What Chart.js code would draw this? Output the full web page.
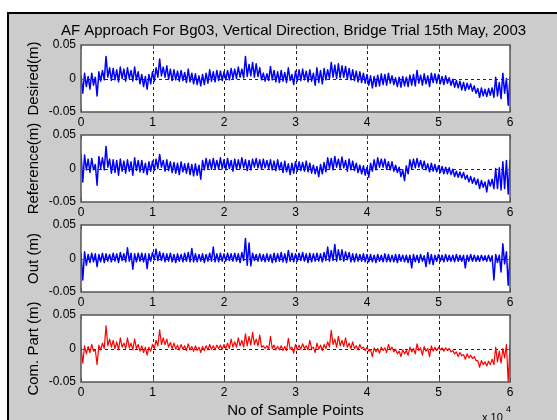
<!DOCTYPE html>
<html>
<head>
<meta charset="utf-8">
<script src="https://cdn.jsdelivr.net/npm/chart.js@4.4.0/dist/chart.umd.min.js"></script>
<style>
  html, body { margin: 0; padding: 0; background: #fff; overflow: hidden; }
  body { width: 557px; height: 420px; position: relative; }
  #fig { position: absolute; left: 7px; top: 12px; right: 0; bottom: 0;
         background: #cccccc; border-top: 2px solid #000; border-left: 2px solid #000; }
  canvas { position: absolute; left: 0; }
</style>
</head>
<body>
<div id="fig"></div>
<canvas id="c1" width="557" height="147" style="top:5px;width:557px;height:147px"></canvas>
<canvas id="c2" width="557" height="147" style="top:95px;width:557px;height:147px"></canvas>
<canvas id="c3" width="557" height="147" style="top:185px;width:557px;height:147px"></canvas>
<canvas id="c4" width="557" height="147" style="top:275px;width:557px;height:147px"></canvas>
<script>
// AF approach, Bg03 vertical direction - 4 stacked panels
// values in mm, one point every 250 samples (upper / lower edge of the noise band)

const sampleStep = 250;

const xTickValues = [0, 10000, 20000, 30000, 40000, 50000, 60000];
const xTickLabels = ['0', '1', '2', '3', '4', '5', '6'];
const yTickValues = [-0.05, 0, 0.05];
const yTickLabels = ['-0.05', '0', '0.05'];

const titleText = 'AF Approach For Bg03, Vertical Direction, Bridge Trial 15th May, 2003';
const xTitle = 'No of Sample Points';
const yTitles = ['Desired(m)', 'Reference(m)', 'Out (m)', 'Com. Part (m)'];

const desiredMm = [
  5,-22, 8,-12, 3,-16, 8,-10, 2,-26,
  10,-4, 12,-2, 33,2, 16,-3, 15,-2,
  13,-5, 17,0, 14,-4, 16,0, 12,-4,
  17,-2, 10,-8, 6,-12, 3,-16, 6,-8,
  10,-4, 16,2, 29,4, 17,2, 19,-1,
  14,-3, 13,-2, 11,-4, 12,-3, 9,-6,
  14,-5, 8,-8, 7,-9, 4,-11, 6,-9,
  8,-7, 13,-4, 10,-5, 12,-3, 11,-3,
  10,-2, 12,-2, 15,0, 14,0, 17,2,
  14,1, 33,3, 21,4, 24,2, 22,3,
  16,-2, 8,-4, 7,-3, 18,-2, 12,-5,
  10,-6, 12,-4, 9,-6, 16,-3, 6,-9,
  11,-4, 13,-3, 14,-2, 11,-5, 13,-4,
  8,-10, 16,-6, 12,-8, 15,-2, 13,0,
  24,2, 20,0, 22,1, 19,2, 18,-1,
  15,-2, 13,-3, 11,-5, 10,-6, 8,-7,
  6,-10, 4,-14, 3,-12, 5,-11, 7,-9,
  6,-10, 8,-7, 4,-9, 1,-12, 2,-13,
  3,-11, 2,-12, 5,-10, 6,-11, 12,-7,
  5,-10, 7,-8, 4,-12, 8,-6, 7,-7,
  6,-8, 3,-9, 4,-7, 1,-10, -1,-13,
  -3,-14, -4,-17, -6,-18, -7,-16, -8,-19,
  -11,-22, -15,-28, -14,-26, -16,-27, -15,-25,
  -14,-28, 2,-26, -6,-30, 8,-22, 0,-40,
  3
];

const referenceMm = [
  22,-20, 20,-2, 14,-6, 15,-2, 6,-25,
  18,0, 16,-2, 33,2, 14,-7, 13,-6,
  12,-10, 14,-4, 11,-7, 13,-4, 10,-10,
  16,-3, 12,-5, 12,-6, 8,-9, 10,-4,
  11,-3, 14,0, 21,2, 12,-4, 13,-3,
  10,-6, 9,-7, 8,-9, 10,-5, 7,-7,
  8,-9, 6,-11, 7,-10, 5,-16, 12,-2,
  15,0, 13,-1, 15,0, 12,-1, 16,0,
  13,-2, 15,0, 12,-4, 14,-1, 13,0,
  16,1, 13,-3, 12,-2, 14,2, 15,1,
  13,-1, 14,1, 12,0, 13,-2, 11,-3,
  13,-2, 9,-6, 11,-5, 7,-9, 8,-7,
  10,-4, 10,-3, 9,-4, 11,-5, 8,-7,
  5,-8, 3,-12, 6,-8, 9,-5, 16,0,
  15,-2, 18,2, 14,0, 17,1, 12,-4,
  14,-2, 11,-3, 8,-6, 5,-8, 4,-10,
  2,-13, 8,-4, 13,-2, 16,2, 14,2,
  14,-1, 10,-2, 10,-4, 5,-6, 2,-12,
  -2,-18, 4,-8, 13,0, 14,1, 15,2,
  12,0, 11,-2, 7,-5, 8,-4, 6,-5,
  4,-6, 3,-8, 2,-8, 1,-9, -1,-12,
  -4,-13, -5,-14, -6,-16, -10,-20, -12,-22,
  -14,-24, -16,-30, -18,-28, -20,-35, -17,-26,
  -16,-30, 0,-30, 1,-32, 10,-30, 12,-38,
  13
];

const outMm = [
  8,-32, 10,-10, 6,-6, 8,-5, 7,-12,
  6,-5, 8,-6, 7,-4, 6,-5, 8,-4,
  7,-6, 9,-3, 7,-5, 16,-4, 8,-16,
  7,-5, 8,-4, 8,-5, 7,-15, 7,-4,
  9,-2, 14,-3, 10,-3, 8,-5, 7,-4,
  8,-5, 6,-6, 7,-4, 6,-5, 8,-4,
  9,-5, 15,-5, 7,-5, 6,-4, 7,-6,
  6,-4, 8,-4, 17,-5, 7,-5, 8,-4,
  7,-4, 8,-3, 7,-4, 8,-4, 7,-6,
  9,-3, 30,-10, 23,-11, 8,-3, 6,-4,
  7,-4, 6,-5, 7,-4, 6,-6, 8,-5,
  7,-4, 9,-5, 7,-6, 12,-4, 8,-5,
  7,-4, 8,-3, 9,-4, 7,-6, 8,-5,
  7,-4, 8,-4, 7,-5, 9,-3, 17,-4,
  12,-3, 21,-4, 13,-2, 13,-4, 10,-2,
  9,-5, 7,-5, 7,-4, 6,-4, 7,-5,
  6,-5, 6,-5, 5,-6, 6,-4, 5,-5,
  7,-5, 6,-5, 5,-5, 6,-6, 6,-4,
  5,-5, 5,-6, 5,-14, 6,-5, 5,-6,
  6,-4, 4,-12, 9,-8, 6,-9, 5,-4,
  6,-4, 5,-5, 6,-4, 5,-4, 5,-5,
  6,-4, 5,-4, 5,-14, 5,-4, 6,-4,
  5,-4, 4,-4, 5,-3, 4,-4, 5,-4,
  4,-32, 6,-6, 5,-20, 22,-8, 10,-40,
  4
];

const comPartMm = [
  2,-22, 4,-8, 3,-6, 6,-4, -2,-24,
  5,-2, 8,0, 34,4, 14,2, 12,0,
  10,-2, 16,2, 8,0, 16,1, 8,-2,
  14,0, 6,-4, 4,-6, 2,-10, 2,-4,
  6,0, 12,4, 28,6, 16,6, 14,2,
  9,0, 8,-1, 5,-2, 6,-1, 4,-3,
  7,-2, 3,-4, 4,-3, 2,-6, 3,-3,
  4,-2, 6,-1, 4,-2, 5,0, 5,-1,
  6,0, 8,0, 14,2, 10,2, 16,4,
  12,2, 22,4, 18,5, 24,6, 14,4,
  20,2, 4,0, 4,-1, 18,0, 5,-2,
  3,-2, 4,-3, 3,-3, 15,-1, 2,-7,
  6,-2, 5,-1, 7,0, 4,-2, 12,0,
  2,-6, 8,-1, 5,-3, 6,0, 10,2,
  27,6, 14,2, 18,4, 12,3, 16,2,
  8,0, 10,0, 4,-2, 6,0, 2,-3,
  2,-4, -2,-12, 1,-5, 0,-7, 2,-3,
  1,-6, 6,-2, 2,-5, -1,-8, -4,-12,
  -2,-8, -3,-10, 2,-5, 0,-8, 7,-3,
  1,-10, 3,-4, 0,-12, 4,-4, 2,-3,
  2,-2, 1,-4, 1,-3, 0,-5, -3,-8,
  -5,-12, -6,-11, -9,-16, -8,-14, -10,-15,
  -12,-18, -18,-28, -18,-24, -20,-26, -19,-24,
  -16,-24, 2,-20, -4,-22, 0,-14, 6,-50,
  6
];

Chart.defaults.font.family = '"Liberation Sans", Arial, sans-serif';
Chart.defaults.color = '#000';

// matlab-ish axes: white box, dashed grid, inward ticks
const matlabAxes = {
  id: 'matlabAxes',
  beforeDraw(chart) {
    const { ctx, chartArea: a } = chart;
    ctx.save();
    ctx.fillStyle = '#fff';
    ctx.fillRect(a.left, a.top, a.right - a.left, a.bottom - a.top);
    ctx.restore();
  },
  beforeDatasetsDraw(chart) {
    const { ctx, chartArea: a, scales: { x, y } } = chart;
    ctx.save();
    ctx.strokeStyle = '#222';
    ctx.lineWidth = 1;
    ctx.setLineDash([3, 3]);
    xTickValues.slice(1, -1).forEach(v => {
      const px = Math.round(x.getPixelForValue(v)) + 0.5;
      ctx.beginPath(); ctx.moveTo(px, a.top); ctx.lineTo(px, a.bottom); ctx.stroke();
    });
    const py = Math.round(y.getPixelForValue(0)) + 0.5;
    ctx.beginPath(); ctx.moveTo(a.left, py); ctx.lineTo(a.right, py); ctx.stroke();
    ctx.restore();
  },
  afterDatasetsDraw(chart) {
    const { ctx, chartArea: a, scales: { x, y } } = chart;
    ctx.save();
    ctx.strokeStyle = '#555';
    ctx.lineWidth = 1;
    xTickValues.forEach(v => {
      const px = Math.round(x.getPixelForValue(v)) + 0.5;
      ctx.beginPath();
      ctx.moveTo(px, a.bottom); ctx.lineTo(px, a.bottom - 4);
      ctx.moveTo(px, a.top); ctx.lineTo(px, a.top + 4);
      ctx.stroke();
    });
    const py = Math.round(y.getPixelForValue(0)) + 0.5;
    ctx.beginPath();
    ctx.moveTo(a.left, py); ctx.lineTo(a.left + 4, py);
    ctx.moveTo(a.right, py); ctx.lineTo(a.right - 4, py);
    ctx.stroke();
    ctx.lineWidth = 1.5;
    ctx.strokeRect(a.left, a.top, a.right - a.left, a.bottom - a.top);
    ctx.restore();
  }
};

const figTitle = {
  id: 'figTitle',
  afterDraw(chart) {
    const { ctx, chartArea: a } = chart;
    ctx.save();
    ctx.font = '15px "Liberation Sans", Arial, sans-serif';
    ctx.fillStyle = '#000';
    ctx.textAlign = 'center';
    ctx.textBaseline = 'alphabetic';
    ctx.fillText(titleText, (a.left + a.right) / 2 - 2, 29.5);
    ctx.restore();
  }
};

const expLabel = {
  id: 'expLabel',
  afterDraw(chart) {
    const ctx = chart.ctx;
    ctx.save();
    ctx.fillStyle = '#000';
    ctx.textBaseline = 'alphabetic';
    ctx.font = '11px "Liberation Sans", Arial, sans-serif';
    ctx.fillText('x 10', 482, 146);
    ctx.font = '9px "Liberation Sans", Arial, sans-serif';
    ctx.fillText('4', 506, 137);
    ctx.restore();
  }
};

function makePanel(id, valuesMm, color, width, yTitle, last, extra) {
  const points = valuesMm.map((v, i) => ({ x: i * sampleStep, y: v / 1000 }));
  return new Chart(document.getElementById(id), {
    type: 'line',
    data: {
      datasets: [{
        data: points,
        borderColor: color,
        borderWidth: width,
        borderJoinStyle: 'round',
        pointRadius: 0,
        tension: 0,
        fill: false
      }]
    },
    options: {
      responsive: false,
      animation: false,
      events: [],
      layout: { padding: { top: 40, right: 47, bottom: last ? 0 : 18, left: 0 } },
      plugins: { legend: { display: false }, tooltip: { enabled: false } },
      scales: {
        x: {
          type: 'linear', min: 0, max: 60000,
          grid: { display: false, drawTicks: false },
          border: { display: false },
          afterBuildTicks: s => { s.ticks = xTickValues.map(v => ({ value: v })); },
          afterFit: s => { s.height = last ? 40 : 22; },
          ticks: {
            font: { size: 12 }, padding: 3, maxRotation: 0, autoSkip: false,
            callback: (v, i) => xTickLabels[i]
          },
          title: {
            display: last, text: xTitle, font: { size: 15 },
            padding: { top: 0, bottom: 2 }
          }
        },
        y: {
          min: -0.05, max: 0.05,
          grid: { display: false, drawTicks: false },
          border: { display: false },
          afterBuildTicks: s => { s.ticks = yTickValues.map(v => ({ value: v })); },
          afterFit: s => { s.width = 81; },
          ticks: {
            font: { size: 12 }, padding: 5,
            callback: (v, i) => yTickLabels[i]
          },
          title: {
            display: true, text: yTitle, font: { size: 15 },
            padding: { top: 25, bottom: 0 }
          }
        }
      }
    },
    plugins: [matlabAxes].concat(extra || [])
  });
}

makePanel('c1', desiredMm, '#0000ff', 1.5, yTitles[0], false, [figTitle]);
makePanel('c2', referenceMm, '#0000ff', 1.5, yTitles[1], false);
makePanel('c3', outMm, '#0000ff', 1.5, yTitles[2], false);
makePanel('c4', comPartMm, '#ff0000', 1.2, yTitles[3], true, [expLabel]);
</script>
</body>
</html>
